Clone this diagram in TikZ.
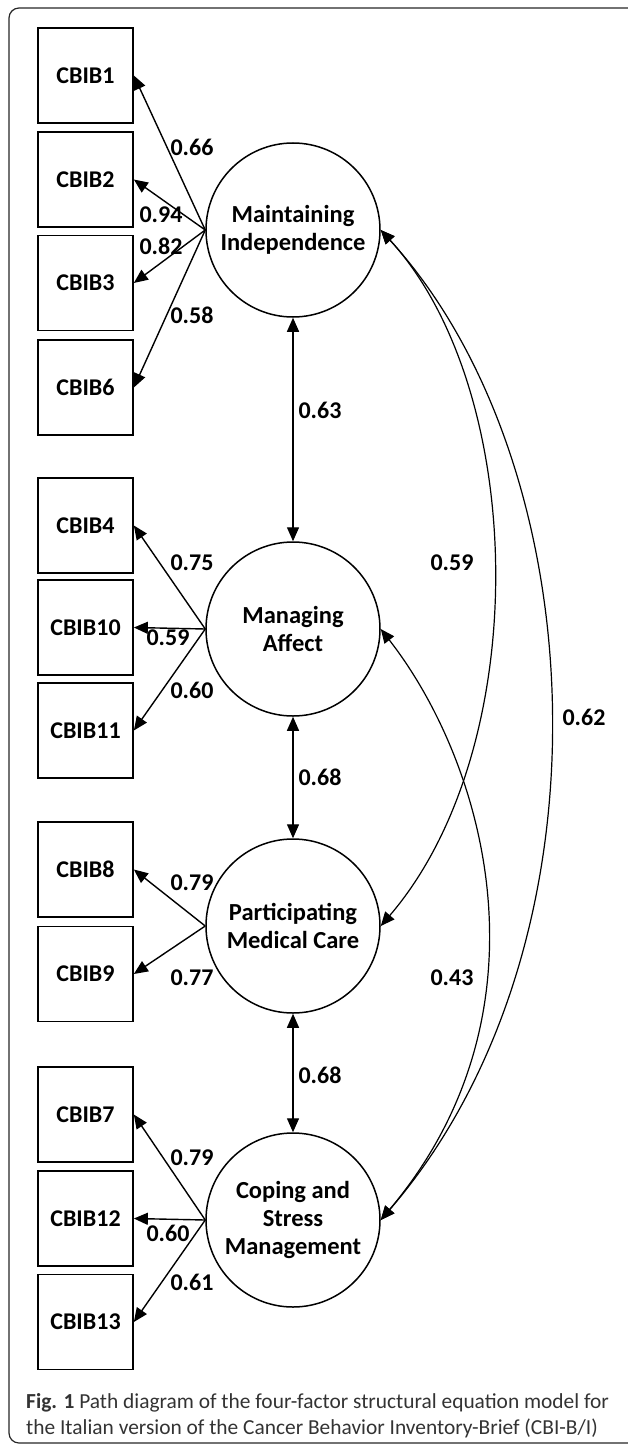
\documentclass[tikz,border=0pt]{standalone}
\usepackage{fontspec}
\setmainfont{Carlito}
\usetikzlibrary{arrows.meta}
\begin{document}
\begin{tikzpicture}[x=1pt,y=-1pt,
  box/.style={draw=black,line width=1.7pt,minimum width=95pt,minimum height=95pt,inner sep=0pt,font=\fontsize{24}{28}\selectfont\bfseries},
  latent/.style={circle,draw=black,line width=1.5pt,minimum size=174pt,inner sep=0pt,align=center,font=\fontsize{24.5}{28}\selectfont\bfseries},
  lbl/.style={font=\fontsize{24}{28}\selectfont\bfseries,inner sep=0pt},
  load/.style={-{Triangle[length=14pt,width=12pt]},line width=1.4pt},
  cor/.style={{Triangle[length=14pt,width=12pt]}-{Triangle[length=14pt,width=12pt]},line width=1.4pt},
  capt/.style={anchor=base west,inner sep=0pt,text=black!80,font=\fontsize{21.4}{26}\selectfont}
]
\useasboundingbox (0,0) rectangle (627,1447);
\draw[line width=1.2pt,rounded corners=10pt,draw=black!85] (9,8) rectangle (680,1443);

% indicator boxes
\node[box] (b1)  at (85.5,75.5)  {CBIB1};
\node[box] (b2)  at (85.5,179.5) {CBIB2};
\node[box] (b3)  at (85.5,283)   {CBIB3};
\node[box] (b6)  at (85.5,387.5) {CBIB6};
\node[box] (b4)  at (85.5,525.5) {CBIB4};
\node[box] (b10) at (85.5,627.5) {CBIB10};
\node[box] (b11) at (85.5,730.5) {CBIB11};
\node[box] (b8)  at (85.5,869.5) {CBIB8};
\node[box] (b9)  at (85.5,974)   {CBIB9};
\node[box] (b7)  at (85.5,1114.5){CBIB7};
\node[box] (b12) at (85.5,1218.5){CBIB12};
\node[box] (b13) at (85.5,1322)  {CBIB13};

% latent factors
\node[latent] (mi)  at (293,230)  {Maintaining\\Independence};
\node[latent] (ma)  at (293,629)  {Managing\\Affect};
\node[latent] (pmc) at (293,926)  {Participating\\Medical Care};
\node[latent] (csm) at (293,1220) {Coping and\\Stress\\Management};

% loadings
\draw[load] (mi.west) -- (b1.east);
\draw[load] (mi.west) -- (b2.east);
\draw[load] (mi.west) -- (b3.east);
\draw[load] (mi.west) -- (b6.east);
\draw[load] (ma.west) -- (b4.east);
\draw[load] (ma.west) -- (b10.east);
\draw[load] (ma.west) -- (b11.east);
\draw[load] (pmc.west) -- (b8.east);
\draw[load] (pmc.west) -- (b9.east);
\draw[load] (csm.west) -- (b7.east);
\draw[load] (csm.west) -- (b12.east);
\draw[load] (csm.west) -- (b13.east);

% factor correlations
\draw[cor] (mi.south) -- (ma.north);
\draw[cor] (ma.south) -- (pmc.north);
\draw[cor] (pmc.south) -- (csm.north);
\draw[cor,line width=1.2pt] (mi.east) .. controls +(147,161) and +(153.5,-179) .. (pmc.east);
\draw[cor,line width=1.2pt] (mi.east) .. controls +(214,235) and +(238,-276) .. (csm.east);
\draw[cor,line width=1.2pt] (ma.east) .. controls +(105,135) and +(175,-208) .. (csm.east);

% labels
\node[lbl] (l1)  at (192,147) {0.66};
\node[lbl] (l2)  at (161,215) {0.94};
\node[lbl] (l3)  at (161,246) {0.82};
\node[lbl] (l6)  at (192,315) {0.58};
\node[lbl] (l4)  at (192,563) {0.75};
\node[lbl] (l10) at (168,638) {0.59};
\node[lbl] (l11) at (192,690) {0.60};
\node[lbl] (l8)  at (192,883) {0.79};
\node[lbl] (l9)  at (192,978) {0.77};
\node[lbl] (l7)  at (192,1158) {0.79};
\node[lbl] (l12) at (168,1233) {0.60};
\node[lbl] (l13) at (192,1282) {0.61};
\node[lbl] (c1) at (320,410) {0.63};
\node[lbl] (c2) at (320,777) {0.68};
\node[lbl] (c3) at (320,1075) {0.68};
\node[lbl] (c4) at (452,563) {0.59};
\node[lbl] (c5) at (584,717) {0.62};
\node[lbl] (c6) at (452,978) {0.43};

% caption
\node[capt] (cap1) at (26,1408) {\textbf{Fig. 1} Path diagram of the four-factor structural equation model for};
\node[capt] (cap2) at (26,1434) {the Italian version of the Cancer Behavior Inventory-Brief (CBI-B/I)};
\end{tikzpicture}
\end{document}
